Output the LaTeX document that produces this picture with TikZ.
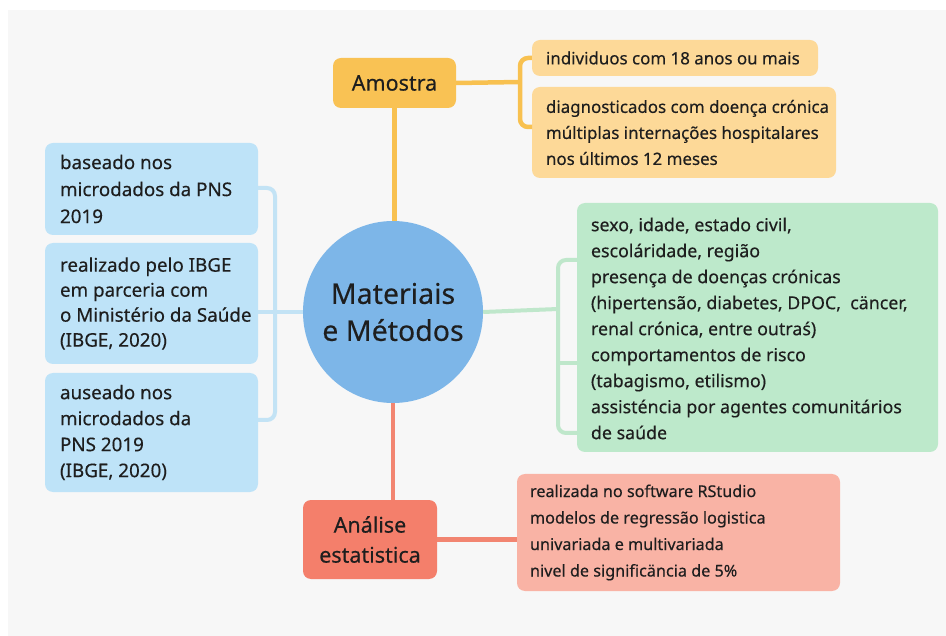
\documentclass[tikz,border=0pt]{standalone}
\usepackage{fontspec}
\setmainfont{Noto Sans}[FakeBold=0.3]
\usetikzlibrary{shapes.geometric}
\definecolor{bgc}{HTML}{F7F7F7}
\definecolor{txt}{HTML}{1E1E1E}
\definecolor{ordark}{HTML}{F9C254}
\definecolor{orlight}{HTML}{FDD998}
\definecolor{orline}{HTML}{F8C150}
\definecolor{bldark}{HTML}{7DB6E8}
\definecolor{bllight}{HTML}{BEE3F8}
\definecolor{blline}{HTML}{C3E3F5}
\definecolor{grlight}{HTML}{BDE9CB}
\definecolor{grline}{HTML}{BFE7CB}
\definecolor{rddark}{HTML}{F47F6B}
\definecolor{rdlight}{HTML}{F9B3A5}
\definecolor{rdline}{HTML}{F28571}
\begin{document}
\begin{tikzpicture}[x=1pt,y=-1pt,
  boxs/.style={rounded corners=8pt, inner sep=0pt},
  lbl/.style={anchor=west, inner sep=0pt, text=txt, align=left},
  head/.style={rounded corners=8pt, inner sep=0pt, text=txt, align=center, font=\fontsize{21.5}{30}\selectfont},
  conn/.style={line width=4.5pt}
]
\useasboundingbox (0,0) rectangle (946,636);
\fill[white] (0,0) rectangle (946,636);
\fill[bgc] (8,10) rectangle (946,636);

% center
\node[ellipse, fill=bldark, minimum width=180pt, minimum height=182pt, inner sep=0pt] (mm) at (393,312) {};
\node[inner sep=0pt, text=txt, align=center, font=\fontsize{28.5}{37}\selectfont] (mmt) at (mm.center) {Materiais\\e Métodos};

% amostra
\node[head, fill=ordark, minimum width=123pt, minimum height=50pt] (am) at (394.5,83) {Amostra};
\node[boxs, fill=orlight, minimum width=286pt, minimum height=36pt] (b1) at (675,58) {};
\node[lbl, font=\fontsize{16.9}{26}\selectfont] (b1t) at ([xshift=14pt]b1.west) {individuos com 18 anos ou mais};
\node[boxs, fill=orlight, minimum width=304pt, minimum height=91pt] (b2) at (684,132.5) {};
\node[lbl, font=\fontsize{16.9}{26}\selectfont] (b2t) at ([xshift=14pt]b2.west) {diagnosticados com doença crónica\\múltiplas internações hospitalares\\nos últimos 12 meses};

% blue
\node[boxs, fill=bllight, minimum width=213pt, minimum height=92pt] (ba) at (151.5,189) {};
\node[lbl, font=\fontsize{18.8}{27}\selectfont] (bat) at ([xshift=15pt]ba.west) {baseado nos\\microdados da PNS\\2019};
\node[boxs, fill=bllight, minimum width=213pt, minimum height=121pt] (bb) at (151.5,303.5) {};
\node[lbl, font=\fontsize{18.8}{25}\selectfont] (bbt) at ([xshift=15pt]bb.west) {realizado pelo IBGE\\em parceria com\\o Ministério da Saúde\\(IBGE, 2020)};
\node[boxs, fill=bllight, minimum width=213pt, minimum height=119pt] (bc) at (151.5,432.5) {};
\node[lbl, font=\fontsize{18.8}{26}\selectfont] (bct) at ([xshift=15pt]bc.west) {auseado nos\\microdados da\\PNS 2019\\(IBGE, 2020)};

% green
\node[boxs, fill=grlight, minimum width=361pt, minimum height=249pt] (gr) at (757.5,327.5) {};
\node[lbl, font=\fontsize{17.8}{26}\selectfont] (grt) at ([xshift=14pt,yshift=-1pt]gr.west) {sexo, idade, estado civil,\\escoláridade, região\\presença de doenças crónicas\\(hipertensão, diabetes, DPOC,~ cäncer,\\renal crónica, entre outraś)\\comportamentos de risco\\(tabagismo, etilismo)\\assisténcia por agentes comunitários\\de saúde};

% red
\node[head, fill=rddark, minimum width=134pt, minimum height=79pt] (rd) at (370,539.5) {Análise\\estatistica};
\node[boxs, fill=rdlight, minimum width=323pt, minimum height=117pt] (pk) at (678.5,532.5) {};
\node[lbl, font=\fontsize{16.2}{26.5}\selectfont] (pkt) at ([xshift=13pt]pk.west) {realizada no software RStudio\\modelos de regressão logistica\\univariada e multivariada\\nivel de significäncia de 5\%};

% connector points
\coordinate (aj) at (520,82);
\coordinate (a2) at (532,127);
\coordinate (bj) at (275,310);
\coordinate (ba2) at (258,188);
\coordinate (bc2) at (258,420);
\coordinate (gj) at (558,309);
\coordinate (gt) at (577,260);
\coordinate (gm) at (577,363);
\coordinate (gb) at (577,433);

% connectors
\draw[conn, orline] (am.south) -- (am.south |- mm.north);
\draw[conn, orline] (am.east) -- (aj);
\draw[conn, orline, rounded corners=8pt] (b1.west) -| (aj) |- (a2);

\draw[conn, blline, line width=4pt] (mm.west) -- (bb.east |- mm.west);
\draw[conn, blline, line width=4pt, rounded corners=8pt] (ba2) -| (bj) |- (bc2);

\draw[conn, grline, line width=4pt] (mm.east) -- (gj);
\draw[conn, grline, line width=4pt, rounded corners=8pt] (gt) -| (gj) |- (gb);
\draw[conn, grline, line width=4pt] (gj |- gm) -- (gm);

\draw[conn, rdline] (mm.south) -- (mm.south |- rd.north);
\draw[conn, rdline] (rd.east) -- (pk.west |- rd.east);
\end{tikzpicture}
\end{document}
